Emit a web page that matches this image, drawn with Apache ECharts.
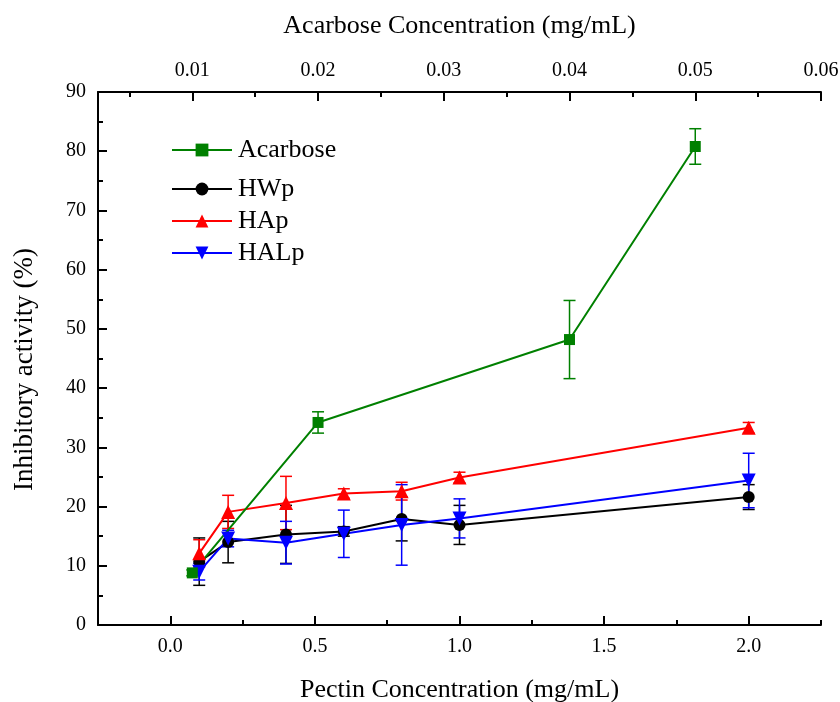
<!DOCTYPE html>
<html>
<head>
<meta charset="utf-8">
<script src="https://cdn.jsdelivr.net/npm/echarts@6/dist/echarts.min.js"></script>
<style>html,body{margin:0;padding:0;background:#fff}#c{width:840px;height:702px}</style>
</head>
<body>
<div id="c"></div>
<script>
// ---- data ----
const pectinConc = [0.1, 0.2, 0.4, 0.6, 0.8, 1.0, 2.0];
const hwpMean = [10.7, 14.0, 15.3, 15.8, 17.9, 16.9, 21.6];
const hwpErr  = [4.0, 3.5, 4.9, 0.8, 3.7, 3.3, 2.1];
const hapMean = [12.1, 19.1, 20.6, 22.2, 22.6, 24.9, 33.3];
const hapErr  = [2.3, 2.8, 4.5, 0.8, 1.5, 0.9, 0.9];
const halpMean = [9.0, 14.6, 13.9, 15.4, 16.9, 18.0, 24.4];
const halpErr  = [1.4, 1.4, 3.6, 4.0, 6.8, 3.3, 4.6];
const acarboseConc = [0.01, 0.02, 0.04, 0.05];
const acarboseMean = [8.8, 34.2, 48.2, 80.8];
const acarboseErr  = [0.5, 1.8, 6.6, 3.0];
const pectinTicks = [0.0, 0.5, 1.0, 1.5, 2.0];
const pectinMinorTicks = [0.25, 0.75, 1.25, 1.75, 2.25];
const acarboseTicks = [0.01, 0.02, 0.03, 0.04, 0.05, 0.06];
const acarboseMinorTicks = [0.005, 0.015, 0.025, 0.035, 0.045, 0.055];

const FONT = "'Liberation Serif', 'Times New Roman', serif";
const chart = echarts.init(document.getElementById('c'));

function pairs(xs, ys, es) { return xs.map((x, i) => [x, ys[i], es[i]]); }
function errSeries(name, xIdx, color, xs, ys, es) {
  return {
    type: 'custom', name: name + ' err', xAxisIndex: xIdx, yAxisIndex: 0, z: 1,
    silent: true,
    data: pairs(xs, ys, es),
    renderItem: function (params, api) {
      const x = api.value(0), y = api.value(1), e = api.value(2);
      const hi = api.coord([x, y + e]), lo = api.coord([x, y - e]);
      const w = 6;
      const st = { stroke: color, lineWidth: 1.5 };
      return { type: 'group', children: [
        { type: 'line', shape: { x1: hi[0], y1: hi[1], x2: lo[0], y2: lo[1] }, style: st },
        { type: 'line', shape: { x1: hi[0] - w, y1: hi[1], x2: hi[0] + w, y2: hi[1] }, style: st },
        { type: 'line', shape: { x1: lo[0] - w, y1: lo[1], x2: lo[0] + w, y2: lo[1] }, style: st }
      ] };
    }
  };
}
function lineSeries(name, xIdx, color, xs, ys, symbol, size, rot) {
  return {
    type: 'line', name: name, xAxisIndex: xIdx, yAxisIndex: 0, z: 3,
    data: xs.map((x, i) => [x, ys[i]]),
    symbol: symbol, symbolSize: size, symbolRotate: rot || 0,
    showAllSymbol: true,
    lineStyle: { color: color, width: 2 },
    itemStyle: { color: color, borderWidth: 0 },
    emphasis: { disabled: true },
    animation: false
  };
}

const axisLineStyle = { color: '#000', width: 2 };
const labelStyle = { color: '#000', fontFamily: FONT, fontSize: 20 };
const nameStyle = { color: '#000', fontFamily: FONT, fontSize: 26 };
const legendText = { color: '#000', fontFamily: FONT, fontSize: 26, padding: [0, 0, 0, 1] };

chart.setOption({
  animation: false,
  backgroundColor: '#fff',
  grid: { left: 98, right: 19, top: 92, bottom: 77, containLabel: false, outerBoundsMode: 'none' },
  legend: [
    {
      data: ['Acarbose'], orient: 'vertical', left: 171, top: 137, padding: 0,
      itemWidth: 60, itemHeight: 16, itemGap: 7, selectedMode: false,
      textStyle: legendText
    },
    {
      data: ['HWp', 'HAp', 'HALp'], orient: 'vertical', left: 171, top: 176, padding: 0,
      itemWidth: 60, itemHeight: 16, itemGap: 6, selectedMode: false,
      textStyle: legendText
    }
  ],
  xAxis: [
    {
      type: 'value', position: 'bottom', min: -0.25, max: 2.25,
      name: 'Pectin Concentration (mg/mL)', nameLocation: 'middle', nameGap: 52,
      nameTextStyle: nameStyle,
      axisLine: { show: true, onZero: false, lineStyle: axisLineStyle },
      axisTick: { show: true, inside: true, length: 9, lineStyle: axisLineStyle, customValues: pectinTicks },
      axisLabel: { show: true, customValues: pectinTicks, margin: 12, formatter: v => Number(v).toFixed(1), ...labelStyle },
      splitLine: { show: false }
    },
    {
      type: 'value', position: 'bottom', min: -0.25, max: 2.25,
      axisLine: { show: false, onZero: false },
      axisTick: { show: true, inside: true, length: 5, lineStyle: axisLineStyle, customValues: pectinMinorTicks },
      axisLabel: { show: false },
      splitLine: { show: false }
    },
    {
      type: 'value', position: 'top', min: 0.0025, max: 0.06,
      name: 'Acarbose Concentration (mg/mL)', nameLocation: 'middle', nameGap: 53,
      nameTextStyle: nameStyle,
      axisLine: { show: true, onZero: false, lineStyle: axisLineStyle },
      axisTick: { show: true, inside: true, length: 9, lineStyle: axisLineStyle, customValues: acarboseTicks },
      axisLabel: { show: true, customValues: acarboseTicks, margin: 11, formatter: v => Number(v).toFixed(2), ...labelStyle },
      splitLine: { show: false }
    },
    {
      type: 'value', position: 'top', min: 0.0025, max: 0.06,
      axisLine: { show: false, onZero: false },
      axisTick: { show: true, inside: true, length: 5, lineStyle: axisLineStyle, customValues: acarboseMinorTicks },
      axisLabel: { show: false },
      splitLine: { show: false }
    }
  ],
  yAxis: [{
    type: 'value', min: 0, max: 90, interval: 10,
    name: 'Inhibitory activity (%)', nameLocation: 'middle', nameGap: 60,
    nameTextStyle: { ...nameStyle, fontSize: 27, padding: [0, 22, 0, 0] },
    axisLine: { show: true, onZero: false, lineStyle: axisLineStyle },
    axisTick: { show: true, inside: true, length: 9, lineStyle: axisLineStyle },
    minorTick: { show: true, splitNumber: 2, length: 5, lineStyle: axisLineStyle },
    axisLabel: { margin: 12, ...labelStyle },
    splitLine: { show: false }
  }],
  series: [
    errSeries('HWp', 0, '#000000', pectinConc, hwpMean, hwpErr),
    errSeries('HAp', 0, '#ff0000', pectinConc, hapMean, hapErr),
    errSeries('HALp', 0, '#0000ff', pectinConc, halpMean, halpErr),
    errSeries('Acarbose', 2, '#008000', acarboseConc, acarboseMean, acarboseErr),
    lineSeries('HWp', 0, '#000000', pectinConc, hwpMean, 'circle', 12),
    lineSeries('HAp', 0, '#ff0000', pectinConc, hapMean, 'triangle', 14),
    lineSeries('HALp', 0, '#0000ff', pectinConc, halpMean, 'triangle', 14, 180),
    lineSeries('Acarbose', 2, '#008000', acarboseConc, acarboseMean, 'rect', 11)
  ]
});
</script>
</body>
</html>
